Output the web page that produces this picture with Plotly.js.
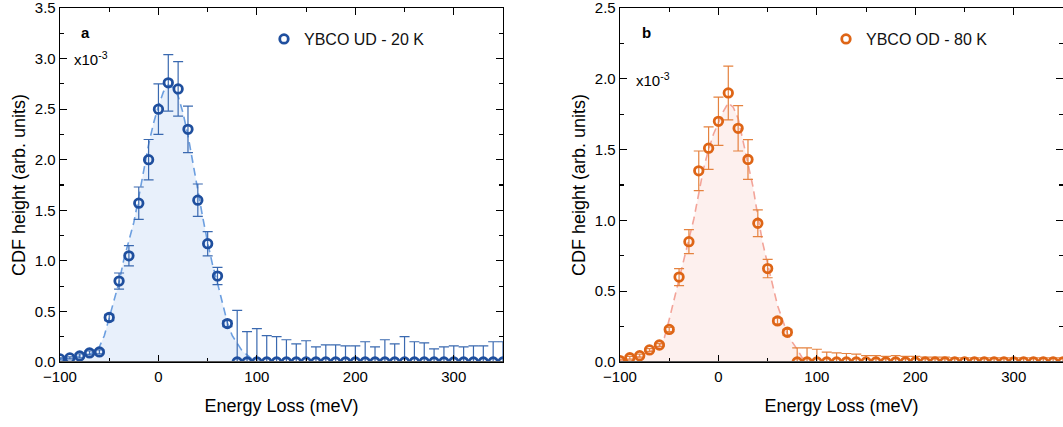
<!DOCTYPE html>
<html><head><meta charset="utf-8">
<script src="https://cdn.plot.ly/plotly-3.0.1.min.js"></script>
<style>html,body{margin:0;padding:0;background:#fff}#chart{width:1063px;height:427px}</style>
</head><body><div id="chart"></div>
<script>
// Measured points (meV)
const energy = [-100,-90,-80,-70,-60,-50,-40,-30,-20,-10,0,10,20,30,40,50,60,70,80,90,100,110,120,130,140,150,160,170,180,190,200,210,220,230,240,250,260,270,280,290,300,310,320,330,340,350];

// Panel a: YBCO UD - 20 K (x10^-3)
const udValues = [0.03,0.04,0.06,0.09,0.10,0.44,0.80,1.05,1.57,2.00,2.50,2.76,2.70,2.30,1.60,1.17,0.85,0.38,0,0,0,0,0,0,0,0,0,0,0,0,0,0,0,0,0,0,0,0,0,0,0,0,0,0,0,0];
const udErrPlus = [0.01,0.01,0.02,0.02,0.02,0.03,0.08,0.10,0.16,0.20,0.25,0.28,0.27,0.23,0.16,0.12,0.085,0.03,0.51,0.30,0.33,0.26,0.25,0.22,0.18,0.21,0.15,0.17,0.17,0.16,0.16,0.20,0.15,0.22,0.18,0.25,0.20,0.19,0.13,0.15,0.16,0.15,0.16,0.16,0.20,0.20];
const udErrMinus = [0.01,0.01,0.02,0.02,0.02,0.03,0.08,0.10,0.16,0.20,0.25,0.28,0.27,0.23,0.16,0.12,0.085,0.03,0,0,0,0,0,0,0,0,0,0,0,0,0,0,0,0,0,0,0,0,0,0,0,0,0,0,0,0];

// Panel b: YBCO OD - 80 K (x10^-3)
const odValues = [0.01,0.03,0.045,0.085,0.12,0.23,0.60,0.85,1.35,1.51,1.70,1.90,1.65,1.43,0.98,0.66,0.29,0.21,0,0,0,0,0,0,0,0,0,0,0,0,0,0,0,0,0,0,0,0,0,0,0,0,0,0,0,0];
const odErrPlus = [0.01,0.01,0.01,0.01,0.01,0.015,0.06,0.085,0.14,0.15,0.17,0.19,0.16,0.14,0.095,0.065,0.02,0.02,0.10,0.10,0.09,0.07,0.065,0.06,0.055,0.045,0.045,0.04,0.045,0.04,0.04,0.035,0.035,0.035,0.03,0.03,0.03,0.03,0.03,0.03,0.03,0.03,0.03,0.03,0.03,0.03];
const odErrMinus = [0.01,0.01,0.01,0.01,0.01,0.015,0.06,0.085,0.14,0.15,0.17,0.19,0.16,0.14,0.095,0.065,0.02,0.02,0,0,0,0,0,0,0,0,0,0,0,0,0,0,0,0,0,0,0,0,0,0,0,0,0,0,0,0];

// Fitted (dashed, shaded) curves
const fitEnergy = [-100,-90,-80,-70,-65,-60,-55,-50,-45,-40,-35,-30,-25,-20,-15,-10,-5,0,5,10,15,20,25,30,35,40,45,50,55,60,65,70,75,80,85,90,95,100,105,350];
const udFit = [0.03,0.04,0.06,0.08,0.10,0.15,0.26,0.43,0.60,0.79,1.02,1.21,1.38,1.63,1.90,2.15,2.36,2.53,2.67,2.74,2.71,2.63,2.46,2.24,1.97,1.69,1.43,1.18,0.96,0.78,0.57,0.39,0.26,0.18,0.11,0.07,0.03,0.01,0,0];
const odFit = [0.01,0.02,0.04,0.07,0.09,0.11,0.17,0.30,0.44,0.60,0.73,0.87,1.01,1.19,1.37,1.50,1.61,1.69,1.77,1.83,1.80,1.72,1.56,1.40,1.24,1.03,0.84,0.69,0.54,0.40,0.30,0.20,0.14,0.09,0.03,0.01,0,0,0,0];

const seriesNames = ['YBCO UD - 20 K', 'YBCO OD - 80 K'];
const panelLabels = ['a', 'b'];
const xTickStep = 100;

const W = 1063, H = 427;
const FONT = 'Liberation Sans, Arial, sans-serif';
const blue = '#1f4f9e', blueErr = '#3a69b0', blueFit = '#6c9fe0', blueFill = '#e8f0fb';
const orange = '#de6516', orangeErr = '#e5823f', orangeFit = '#f3a499', orangeFill = '#fdf0ee';

const traces = [
  {x: fitEnergy, y: udFit, xaxis:'x', yaxis:'y', mode:'lines', fill:'tozeroy', fillcolor: blueFill,
   line:{color: blueFit, width:1.6, dash:'8px,5px'}, showlegend:false, hoverinfo:'skip'},
  {x: energy, y: udValues, xaxis:'x', yaxis:'y', mode:'markers', name: seriesNames[0], legend:'legend',
   marker:{symbol:'circle-open', size:8.5, color: blue, line:{width:2.8, color: blue}},
   error_y:{type:'data', symmetric:false, array: udErrPlus, arrayminus: udErrMinus, color: blueErr, thickness:1.2, width:5}},
  {x: fitEnergy, y: odFit, xaxis:'x2', yaxis:'y2', mode:'lines', fill:'tozeroy', fillcolor: orangeFill,
   line:{color: orangeFit, width:1.6, dash:'8px,5px'}, showlegend:false, hoverinfo:'skip'},
  {x: energy, y: odValues, xaxis:'x2', yaxis:'y2', mode:'markers', name: seriesNames[1], legend:'legend2',
   marker:{symbol:'circle-open', size:8.5, color: orange, line:{width:2.8, color: orange}},
   error_y:{type:'data', symmetric:false, array: odErrPlus, arrayminus: odErrMinus, color: orangeErr, thickness:1.2, width:5}}
];

function xax(dom){
  return {domain: dom, range:[-100,350], dtick:xTickStep, tick0:0, ticks:'inside', ticklen:7, tickwidth:1.2, tickcolor:'#000',
    minor:{dtick:50, ticks:'inside', ticklen:4, tickwidth:1.2, tickcolor:'#000'},
    showline:true, linecolor:'#000', linewidth:1.3, mirror:'ticks', showgrid:false, zeroline:false,
    ticklabeloverflow:'allow', ticklabelstandoff:1,
    tickfont:{family:FONT, size:15, color:'#000'},
    title:{text:'Energy Loss (meV)', font:{family:FONT, size:18, color:'#000'}, standoff:15}, automargin:false};
}
function yax(dom, max, anchor){
  return {domain: dom, range:[0,max], dtick:0.5, tick0:0, tickformat:'.1f', ticks:'inside', ticklen:7, tickwidth:1.2, tickcolor:'#000',
    minor:{dtick:0.25, ticks:'inside', ticklen:4, tickwidth:1.2, tickcolor:'#000'},
    showline:true, linecolor:'#000', linewidth:1.3, mirror:'ticks', showgrid:false, zeroline:false, anchor: anchor,
    ticklabeloverflow:'allow',
    tickfont:{family:FONT, size:15, color:'#000'},
    title:{text:'CDF height (arb. units)', font:{family:FONT, size:18, color:'#000'}, standoff:4}, automargin:false};
}
const yDom = [(H-362)/H, (H-8)/H];
const layout = {
  width: W, height: H, margin:{l:0,r:0,t:0,b:0}, paper_bgcolor:'#fff', plot_bgcolor:'#fff',
  font:{family:FONT, color:'#000'},
  xaxis: Object.assign(xax([60/W, 503/W]), {anchor:'y'}),
  yaxis: yax(yDom, 3.5, 'x'),
  xaxis2: Object.assign(xax([620/W, 1]), {anchor:'y2'}),
  yaxis2: yax(yDom, 2.5, 'x2'),
  legend:{x:264/W, xanchor:'left', y:1-22/H, yanchor:'top', bgcolor:'rgba(0,0,0,0)', borderwidth:0,
          font:{family:FONT, size:16, color:'#111'}},
  legend2:{x:826/W, xanchor:'left', y:1-22/H, yanchor:'top', bgcolor:'rgba(0,0,0,0)', borderwidth:0,
          font:{family:FONT, size:16, color:'#111'}},
  shapes:[
    {type:'line', xref:'x domain', yref:'y', x0:0, x1:1, y0:0, y1:0, line:{color:'#555', width:2}, layer:'above'},
    {type:'line', xref:'x2 domain', yref:'y2', x0:0, x1:1, y0:0, y1:0, line:{color:'#555', width:2}, layer:'above'}
  ],
  annotations:[
    {xref:'paper', yref:'paper', x:79/W, y:1-33/H, xanchor:'left', yanchor:'middle', showarrow:false,
     text:'<b>'+panelLabels[0]+'</b>', font:{family:FONT, size:15, color:'#000'}},
    {xref:'paper', yref:'paper', x:640/W, y:1-33/H, xanchor:'left', yanchor:'middle', showarrow:false,
     text:'<b>'+panelLabels[1]+'</b>', font:{family:FONT, size:15, color:'#000'}},
    {xref:'paper', yref:'paper', x:72/W, y:1-58/H, xanchor:'left', yanchor:'middle', showarrow:false,
     text:'x10<sup>-3</sup>', font:{family:FONT, size:15, color:'#000'}},
    {xref:'paper', yref:'paper', x:634/W, y:1-79/H, xanchor:'left', yanchor:'middle', showarrow:false,
     text:'x10<sup>-3</sup>', font:{family:FONT, size:15, color:'#000'}}
  ]
};
Plotly.newPlot('chart', traces, layout, {staticPlot:true, displayModeBar:false});
</script>
</body></html>
